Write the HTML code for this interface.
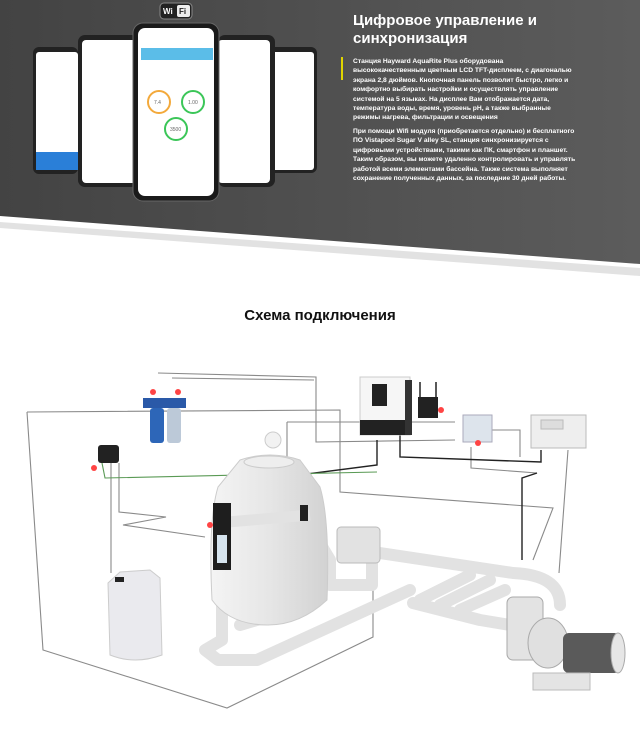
<!DOCTYPE html>
<html><head><meta charset="utf-8"><style>
*{margin:0;padding:0;box-sizing:border-box}
body{width:640px;height:734px;background:#fff;position:relative;overflow:hidden;font-family:"Liberation Sans",sans-serif}
.t{position:absolute;color:#fff;font-weight:bold}
.p{white-space:nowrap;font-size:6.7px;line-height:9.4px}
</style></head><body>
<svg width="640" height="734" style="position:absolute;left:0;top:0">
<defs>
<linearGradient id="bg" x1="0" x2="1" y1="0" y2="0"><stop offset="0" stop-color="#434343"/><stop offset="1" stop-color="#5c5c5c"/></linearGradient>
<linearGradient id="tk" x1="0" x2="1"><stop offset="0" stop-color="#f4f4f4"/><stop offset=".5" stop-color="#e6e6e6"/><stop offset="1" stop-color="#d2d2d2"/></linearGradient>
</defs>
<polygon points="0,222 640,268 640,276 0,228" fill="#e2e2e2"/>
<polygon points="0,0 640,0 640,264 0,216" fill="url(#bg)"/>
<rect x="160" y="3" width="32" height="16" rx="4" fill="#222" stroke="#888"/>
<rect x="177" y="5" width="13" height="12" rx="2" fill="#eee"/>
<text x="163" y="14" font-size="8" font-weight="bold" fill="#fff" font-family="Liberation Sans">Wi</text>
<text x="179" y="14" font-size="8" font-weight="bold" fill="#222" font-family="Liberation Sans">Fi</text>
<rect x="33" y="47" width="45" height="127" rx="6" fill="#222"/><rect x="36" y="52" width="42" height="118" rx="3" fill="#fff"/>
<rect x="36" y="152" width="42" height="18" fill="#2a7fd8"/>
<rect x="78" y="35" width="60" height="152" rx="7" fill="#222"/><rect x="82" y="40" width="56" height="143" rx="4" fill="#fff"/>
<rect x="255" y="47" width="62" height="126" rx="6" fill="#222"/><rect x="258" y="52" width="56" height="118" rx="3" fill="#fff"/>
<rect x="218" y="35" width="57" height="152" rx="7" fill="#222"/><rect x="218" y="40" width="52" height="143" rx="4" fill="#fff"/>
<rect x="133" y="23" width="86" height="178" rx="10" fill="#1a1a1a" stroke="#666"/>
<rect x="138" y="28" width="76" height="168" rx="7" fill="#fff"/>
<rect x="141" y="48" width="72" height="12" fill="#5bbde8"/>
<circle cx="159" cy="102" r="11" fill="none" stroke="#f3a93b" stroke-width="2"/>
<circle cx="193" cy="102" r="11" fill="none" stroke="#3bc658" stroke-width="2"/>
<circle cx="176" cy="129" r="11" fill="none" stroke="#3bc658" stroke-width="2"/>
<text x="154" y="104" font-size="5" fill="#666">7.4</text><text x="188" y="104" font-size="5" fill="#666">1.00</text><text x="170" y="131" font-size="5" fill="#666">3500</text>
<rect x="341" y="57" width="2" height="23" fill="#e0d400"/>
<g fill="none" stroke="#8a8a8a" stroke-width="1.1">
<path d="M27,412 L340,410 L340,492 L553,508 L533,560 M27,412 L43,650 L227,708 L373,637 L373,583"/>
<path d="M158,373 L316,377 L316,442 L455,440 M172,378 L314,380"/>
<path d="M287,422 L455,422 M287,422 L287,497 L293,507"/>
<path d="M119,463 L119,512 L166,517 L123,525 L205,537 M111,463 L111,573"/>
<path d="M568,450 L559,573 M471,447 L471,468 L537,473"/>
<path d="M492,430 L520,430 L520,457"/>
</g>
<g fill="none" stroke="#222" stroke-width="1.4"><path d="M400,435 L400,457 L541,462 L541,450 M221,520 L221,485 L377,465 L377,440 M537,473 L522,478 L522,560"/></g>
<path d="M102,463 L105,478 L377,472" fill="none" stroke="#5a9a55" stroke-width="1.1"/>
<g stroke="#e2e2e2" stroke-width="12" fill="none" stroke-linecap="round" stroke-linejoin="round">
<path d="M222,570 L222,640 L205,650 L218,660 L257,660 L410,590"/>
<path d="M228,522 L310,515 L310,600 L290,610 L240,625"/>
<path d="M315,535 L330,560 L330,585 L372,585 L372,560"/>
<path d="M380,553 L513,573 Q560,575 560,605"/>
<path d="M413,603 L480,620 L510,625 M420,600 L470,575 M440,605 L490,580 M460,610 L505,590"/>
</g>
<path d="M240,460 Q270,450 300,460 L320,487 Q330,520 327,600 Q300,625 268,625 Q230,625 212,600 Q208,520 218,487 Z" fill="url(#tk)" stroke="#ccc"/>
<ellipse cx="269" cy="462" rx="25" ry="6" fill="#eee" stroke="#ccc"/>
<ellipse cx="273" cy="440" rx="8" ry="8" fill="#f2f2f2" stroke="#ccc"/>
<path d="M228,522 L310,515" stroke="#e2e2e2" stroke-width="11"/>
<rect x="213" y="503" width="18" height="67" fill="#1e1e1e"/>
<rect x="217" y="535" width="10" height="28" fill="#d6e4ee"/>
<rect x="300" y="505" width="8" height="16" fill="#222"/>
<rect x="337" y="527" width="43" height="36" rx="4" fill="#e2e2e2" stroke="#bbb"/>
<rect x="531" y="415" width="55" height="33" fill="#eee" stroke="#bbb"/>
<rect x="541" y="420" width="22" height="9" fill="#ddd" stroke="#bbb"/>
<rect x="360" y="377" width="50" height="58" fill="#f6f6f6" stroke="#ccc"/>
<rect x="360" y="420" width="50" height="15" fill="#222"/>
<rect x="405" y="380" width="7" height="55" fill="#333"/>
<rect x="372" y="384" width="15" height="22" fill="#222"/>
<rect x="418" y="397" width="20" height="21" fill="#222"/>
<path d="M420,397 L420,382 M436,397 L436,382" stroke="#222" stroke-width="1.5"/>
<rect x="463" y="415" width="29" height="27" fill="#dde4ec" stroke="#aab"/>
<rect x="143" y="398" width="43" height="10" fill="#2a59a8"/>
<rect x="150" y="408" width="14" height="35" rx="3" fill="#2d66b8"/>
<rect x="167" y="408" width="14" height="35" rx="3" fill="#bcc9d8"/>
<rect x="98" y="445" width="21" height="18" rx="3" fill="#222"/>
<path d="M108,583 L120,572 L150,570 L160,578 L162,655 Q135,665 110,655 Z" fill="#eaeaee" stroke="#ccc"/>
<rect x="115" y="577" width="9" height="5" fill="#222"/>
<rect x="507" y="597" width="36" height="63" rx="6" fill="#e3e3e3" stroke="#aaa"/>
<ellipse cx="548" cy="643" rx="20" ry="25" fill="#e0e0e0" stroke="#aaa"/>
<rect x="563" y="633" width="57" height="40" fill="#5a5a5a" rx="6"/>
<ellipse cx="618" cy="653" rx="7" ry="20" fill="#e6e6e6" stroke="#aaa"/>
<rect x="533" y="673" width="57" height="17" fill="#e4e4e4" stroke="#bbb"/>
<g fill="#f44"><circle cx="153" cy="392" r="3"/><circle cx="178" cy="392" r="3"/><circle cx="94" cy="468" r="3"/><circle cx="441" cy="410" r="3"/><circle cx="478" cy="443" r="3"/><circle cx="210" cy="525" r="3"/></g>
</svg>
<div class="t" style="left:353px;top:12px;font-size:15px;line-height:18px">Цифровое управление и<br>синхронизация</div>
<div class="t p" style="left:353px;top:57px">Станция Hayward AquaRite Plus оборудована<br>высококачественным цветным LCD TFT-дисплеем, с диагональю<br>экрана 2,8 дюймов. Кнопочная панель позволит быстро, легко и<br>комфортно выбирать настройки и осуществлять управление<br>системой на 5 языках. На дисплее Вам отображается дата,<br>температура воды, время, уровень pH, а также выбранные<br>режимы нагрева, фильтрации и освещения</div>
<div class="t p" style="left:353px;top:127px">При помощи Wifi модуля (приобретается отдельно) и бесплатного<br>ПО Vistapool Sugar V alley SL, станция синхронизируется с<br>цифровыми устройствами, такими как ПК, смартфон и планшет.<br>Таким образом, вы можете удаленно контролировать и управлять<br>работой всеми элементами бассейна. Также система выполняет<br>сохранение полученных данных, за последние 30 дней работы.</div>
<div style="position:absolute;left:0;width:640px;top:307px;text-align:center;font-size:15px;font-weight:bold;color:#111">Схема подключения</div>
</body></html>
